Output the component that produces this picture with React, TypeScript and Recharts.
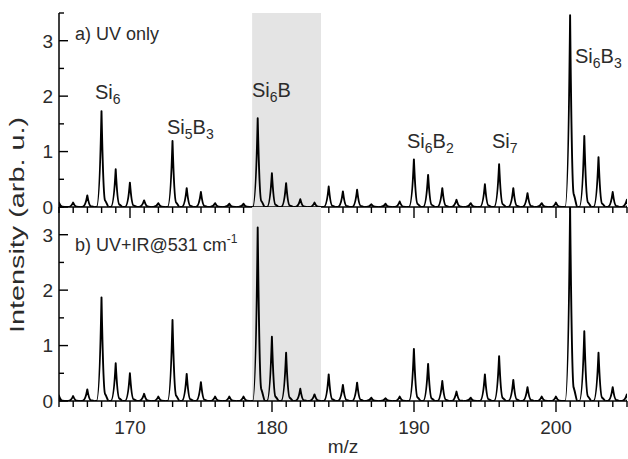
import { BarChart, Bar, XAxis, YAxis, ReferenceArea, Label } from "recharts";

// m/z of each mass peak
const masses = [
  165, 166, 167, 168, 169, 170, 171, 172, 173, 174, 175, 176, 177, 178, 179, 180, 181, 182, 183, 184, 185,
  186, 187, 188, 189, 190, 191, 192, 193, 194, 195, 196, 197, 198, 199, 200, 201, 202, 203, 204, 205,
];
// a) UV only
const uvOnly = [
  0.08, 0.08, 0.21, 1.73, 0.68, 0.44, 0.12, 0.07, 1.19, 0.34, 0.27, 0.07, 0.06, 0.06, 1.6, 0.61, 0.43, 0.14, 0.08, 0.37, 0.28,
  0.31, 0.05, 0.06, 0.1, 0.86, 0.58, 0.34, 0.13, 0.07, 0.41, 0.77, 0.34, 0.25, 0.07, 0.08, 3.46, 1.28, 0.9, 0.27, 0.13,
];
// b) UV+IR@531 cm-1
const uvIr = [
  0.1, 0.09, 0.21, 1.87, 0.68, 0.5, 0.13, 0.08, 1.46, 0.49, 0.34, 0.08, 0.08, 0.08, 3.13, 1.16, 0.87, 0.22, 0.12, 0.48, 0.29,
  0.33, 0.06, 0.05, 0.08, 0.94, 0.67, 0.36, 0.17, 0.06, 0.48, 0.81, 0.38, 0.25, 0.08, 0.08, 3.5, 1.26, 0.87, 0.25, 0.12,
];
const yTicks = [0, 0.5, 1, 1.5, 2, 2.5, 3, 3.5];
const shade = [178.6, 183.45];

const topData = masses.map((m, i) => ({ m, v: uvOnly[i] }));
const bottomData = masses.map((m, i) => ({ m, v: uvIr[i] }));

const FONT = "'Liberation Sans', Arial, Helvetica, sans-serif";
const TXT = "#2b2b2b";
const PLOT_L = 59;
const PLOT_R = 627;

const clampX = (v: number) => Math.min(Math.max(v, PLOT_L), PLOT_R);

// one mass peak: sharp top, a little tail on the high-mass side
function Peak(props: any) {
  const { x, y, width, height } = props;
  if (height == null || isNaN(height)) return null;
  const cx = x + width / 2;
  const b = y + height;
  const h = height;
  const d =
    `M${clampX(cx - 7.1)},${b} L${clampX(cx - 5)},${b} ` +
    `C${clampX(cx - 2.2)},${b} ${cx - 0.8},${y + 0.4 * h} ${cx},${y} ` +
    `C${cx + 0.8},${y + 0.4 * h} ${cx + 1.8},${b - 0.1 * h} ${clampX(cx + 3.5)},${b - 0.07 * h} ` +
    `C${clampX(cx + 5.5)},${b - 0.04 * h} ${clampX(cx + 6.3)},${b} ${clampX(cx + 7.1)},${b}`;
  return <path d={d} fill="none" stroke="#000" strokeWidth={1.9} strokeLinejoin="round" />;
}

const XTick = ({ x, y, payload, showLabel }: any) => {
  const major = payload.value % 10 === 0;
  return (
    <g>
      <line x1={x} y1={y} x2={x} y2={y + (major ? 11 : 6)} stroke="#000" strokeWidth={1.4} />
      {showLabel && major && (
        <text x={x} y={y + 33} textAnchor="middle" fontSize={19} fill={TXT} fontFamily={FONT}>
          {payload.value}
        </text>
      )}
    </g>
  );
};

const YTick = ({ x, y, payload }: any) => {
  const major = Number.isInteger(payload.value);
  return (
    <g>
      <line x1={x} y1={y} x2={x + (major ? 9 : 5)} y2={y} stroke="#000" strokeWidth={1.4} />
      {major && (
        <text x={x - 6} y={y} dy="0.36em" textAnchor="end" fontSize={19} fill={TXT} fontFamily={FONT}>
          {payload.value}
        </text>
      )}
    </g>
  );
};

function Panel({ data, top, height, xHeight, showLabels }: any) {
  return (
    <div style={{ position: "absolute", left: 0, top: 0 }}>
      <BarChart width={628} height={height} data={data} margin={{ top, right: 628 - PLOT_R, bottom: 0, left: 0 }}>
        <ReferenceArea x1={shade[0]} x2={shade[1]} fill="#e4e4e4" fillOpacity={1} stroke="none" />
        <XAxis
          dataKey="m"
          type="number"
          domain={[165, 205]}
          ticks={masses}
          interval={0}
          height={xHeight}
          tickSize={0}
          tickMargin={0}
          tickLine={false}
          axisLine={{ stroke: "#000", strokeWidth: 1.5 }}
          tick={<XTick showLabel={showLabels} />}
          allowDataOverflow
        >
          {showLabels && (
            <Label value="m/z" position="insideBottom" offset={6} fontSize={19} fill={TXT} fontFamily={FONT} />
          )}
        </XAxis>
        <YAxis
          type="number"
          domain={[0, 3.5]}
          ticks={yTicks}
          interval={0}
          width={PLOT_L}
          tickSize={0}
          tickMargin={0}
          tickLine={false}
          axisLine={{ stroke: "#000", strokeWidth: 1.5 }}
          tick={<YTick />}
          allowDataOverflow
        />
        <Bar dataKey="v" barSize={14} shape={<Peak />} isAnimationActive={false} />
      </BarChart>
    </div>
  );
}

const Sub = ({ children }: any) => (
  <tspan fontSize={14} dy={5}>
    {children}
  </tspan>
);

export default function App() {
  const t = { fontFamily: FONT, fill: TXT };
  return (
    <div style={{ position: "absolute", left: 0, top: 0, width: 628, height: 459, background: "#fff", overflow: "hidden" }}>
      <Panel data={topData} top={13} height={227} xHeight={20} showLabels={false} />
      <Panel data={bottomData} top={207} height={459} xHeight={58} showLabels />
      <svg width={628} height={459} style={{ position: "absolute", left: 0, top: 0, pointerEvents: "none" }}>
        <text {...t} fontSize={18} x={75} y={40}>a) UV only</text>
        <text {...t} fontSize={18} x={75} y={251}>
          b) UV+IR@531 cm<tspan fontSize={12} dy={-8}>-1</tspan>
        </text>
        <text {...t} fontSize={20} x={95} y={99}>
          Si<Sub>6</Sub>
        </text>
        <text {...t} fontSize={20} x={167} y={134}>
          Si<Sub>5</Sub>
          <tspan dy={-5}>B</tspan>
          <Sub>3</Sub>
        </text>
        <text {...t} fontSize={20} x={252} y={97}>
          Si<Sub>6</Sub>
          <tspan dy={-5}>B</tspan>
        </text>
        <text {...t} fontSize={20} x={407} y={148}>
          Si<Sub>6</Sub>
          <tspan dy={-5}>B</tspan>
          <Sub>2</Sub>
        </text>
        <text {...t} fontSize={20} x={492} y={148}>
          Si<Sub>7</Sub>
        </text>
        <text {...t} fontSize={20} x={575} y={63}>
          Si<Sub>6</Sub>
          <tspan dy={-5}>B</tspan>
          <Sub>3</Sub>
        </text>
        <text
          {...t}
          fontSize={20}
          textAnchor="middle"
          textLength={216}
          lengthAdjust="spacingAndGlyphs"
          transform="translate(24,225) rotate(-90)"
        >
          Intensity (arb. u.)
        </text>
      </svg>
    </div>
  );
}
